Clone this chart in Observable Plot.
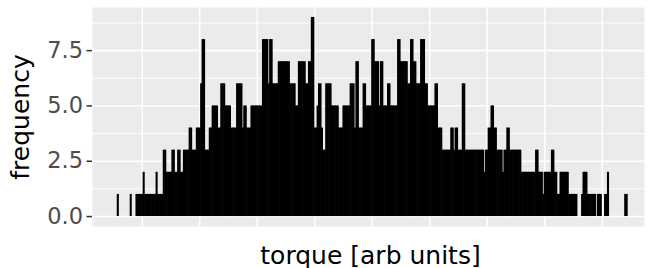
<!DOCTYPE html>
<html><head><meta charset="utf-8">
<script src="https://cdn.jsdelivr.net/npm/d3@7"></script>
<script src="https://cdn.jsdelivr.net/npm/@observablehq/plot@0.6"></script>
<style>body{margin:0;background:#fff}</style>
</head><body><div id="chart"></div>
<script>
// torque values (arbitrary units) and frequency counts
const torque = [23,32,36,37,38,39,40,41,42,43,44,45,46,47,48,49,50,51,52,53,54,55,56,57,58,59,60,
61,62,63,64,65,66,67,68,69,70,71,72,73,74,75,76,77,78,79,80,81,82,83,84,85,86,87,88,89,90,
91,92,93,94,95,96,97,98,99,100,101,102,103,104,105,106,107,108,109,110,111,112,113,114,115,116,117,118,119,120,
121,122,123,124,125,126,127,128,129,130,131,132,133,134,135,136,137,138,139,140,141,142,143,144,145,146,147,148,149,150,
151,152,153,154,155,156,157,158,159,160,161,162,163,164,165,166,167,168,169,170,171,172,173,174,175,176,177,178,179,180,
181,182,183,184,185,186,187,188,189,190,191,192,193,194,195,196,197,198,199,200,201,202,203,204,205,206,207,208,209,210,
211,212,213,214,215,216,217,218,219,220,221,222,223,224,225,226,227,228,229,230,231,232,233,234,235,236,237,238,239,240,
241,242,243,244,245,246,247,248,249,250,251,252,253,254,255,256,257,258,259,260,261,262,263,264,265,266,267,268,269,270,
271,272,273,274,275,276,277,278,279,280,281,282,283,284,285,286,287,288,289,290,291,292,293,294,295,296,297,298,299,300,
301,302,303,304,305,306,307,308,309,310,311,312,313,314,315,316,317,318,319,320,321,322,323,324,325,326,327,328,329,330,
331,332,333,334,335,336,337,338,339,340,341,342,346,347,348,349,350,351,352,353,354,355,357,358,359,362,363,364,376,377];
const frequency = [1,1,1,1,1,1,1,2,1,1,1,1,1,1,1,1,2,1,1,1,1,3,3,2,2,2,2,
3,3,2,2,3,3,2,2,3,3,3,3,4,4,3,3,3,4,4,4,6,8,8,3,3,3,4,4,5,5,
5,5,4,4,6,6,6,5,5,5,5,4,4,4,4,6,6,6,6,4,5,5,4,4,4,5,5,5,5,5,
5,5,5,8,8,8,8,6,8,8,6,6,6,6,7,7,7,7,7,7,7,7,6,6,6,6,5,5,7,7,
7,7,7,6,6,7,7,9,9,4,4,5,6,6,4,3,3,6,6,6,6,5,5,5,5,5,4,4,4,5,
5,5,5,5,6,6,6,4,7,7,4,4,4,6,6,5,5,5,5,8,8,7,7,7,5,7,7,5,5,5,
6,6,5,5,5,5,5,8,8,7,7,7,7,7,6,6,8,8,7,7,6,6,6,8,8,8,6,6,5,5,
5,5,5,6,6,4,4,4,3,3,3,3,3,3,4,4,3,4,4,3,3,3,6,6,3,3,3,3,3,3,
3,3,3,3,3,3,3,2,3,3,4,4,5,5,4,4,3,3,3,3,2,3,3,4,4,3,3,3,3,3,
3,3,3,2,2,2,2,2,2,2,2,2,2,3,3,2,2,2,1,2,2,2,2,2,3,3,2,2,1,1,
2,2,2,2,2,2,1,1,1,1,1,1,1,2,2,2,1,1,1,1,1,1,1,1,1,1,1,2,1,1];
const yTicks = [0, 2.5, 5, 7.5];
const yTickLabels = ["0.0", "2.5", "5.0", "7.5"];
const yMinor = [1.25, 3.75, 6.25, 8.75];
const xGrid = [40, 80, 120, 160, 200, 240, 280, 320, 360];
const xTitle = "torque [arb units]";
const yTitle = "frequency";

const data = torque.map((t, i) => ({torque: t, frequency: frequency[i]}));

const chart = Plot.plot({
  width: 650, height: 268,
  marginLeft: 92, marginRight: 6, marginTop: 7, marginBottom: 42,
  style: {fontFamily: "DejaVu Sans", fontSize: "22.5px", background: "white", color: "#333333"},
  x: {domain: [5.4, 389.4], axis: null},
  y: {domain: [-0.45, 9.45], ticks: yTicks, tickFormat: d => yTickLabels[yTicks.indexOf(d)], tickSize: 5.5, tickPadding: 4, label: null},
  marks: [
    Plot.frame({fill: "#EBEBEB", stroke: "none"}),
    Plot.ruleY(yMinor, {stroke: "white", strokeWidth: 0.9}),
    Plot.ruleY(yTicks, {stroke: "white", strokeWidth: 1.6}),
    Plot.ruleX(xGrid, {stroke: "white", strokeWidth: 1.5}),
    Plot.ruleX(data, {x: "torque", y1: 0, y2: "frequency", stroke: "black", strokeWidth: 2.1}),
    Plot.text([xTitle], {frameAnchor: "bottom", dy: 37, dx: 2, lineAnchor: "bottom", textAnchor: "middle", fontSize: 25, fill: "black"}),
    Plot.text([yTitle], {frameAnchor: "left", dx: -64, rotate: -90, lineAnchor: "bottom", textAnchor: "middle", fontSize: 25, fill: "black"})
  ]
});
const sel = d3.select(chart);
sel.selectAll('[aria-label="y-axis"] text, [aria-label="y-axis tick label"] text').attr("fill", "#4D4D4D");
sel.selectAll('[aria-label="y-axis"] line').attr("stroke-width", 1.5);
sel.selectAll('[aria-label="y-axis tick"]').attr("stroke-width", 1.5);
document.getElementById("chart").appendChild(chart);
</script>
</body></html>
